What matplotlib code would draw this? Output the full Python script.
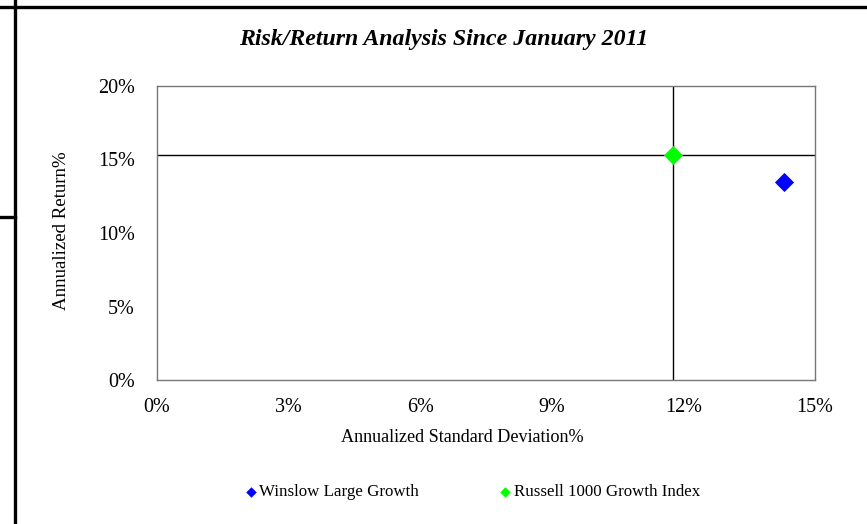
import matplotlib
matplotlib.use('Agg')
import matplotlib.pyplot as plt
from matplotlib.lines import Line2D
from matplotlib.ticker import FuncFormatter

# data (percent)
names = ['Winslow Large Growth', 'Russell 1000 Growth Index']
std_dev = [14.29, 11.76]
returns = [13.5, 15.3]
colors = ['#0000ff', '#00ff00']

x_ticks = [0, 3, 6, 9, 12, 15]
y_ticks = [0, 5, 10, 15, 20]

plt.rcParams['font.family'] = ['Liberation Serif', 'DejaVu Serif']

W, H = 867, 524
fig = plt.figure(figsize=(W / 100, H / 100), dpi=100)
ax = fig.add_axes([157 / W, 1 - 380 / H, (815 - 157) / W, (380 - 86) / H])

# crosshair through the index
ax.axvline(std_dev[1], color='black', lw=1.0, zorder=1)
ax.axhline(returns[1], color='black', lw=1.0, zorder=1)

for x, y, c, n in zip(std_dev, returns, colors, names):
    ax.scatter(x, y, marker='D', s=95, color=c, label=n, zorder=3, linewidths=0)

ax.set_xlim(0, 15)
ax.set_ylim(0, 20)
ax.set_xticks(x_ticks)
ax.set_yticks(y_ticks)
pct = FuncFormatter(lambda v, p: f'{v:.0f}%')
ax.xaxis.set_major_formatter(pct)
ax.yaxis.set_major_formatter(pct)
ax.tick_params(length=0, labelsize=14.5)
ax.tick_params(axis='y', pad=16)
ax.tick_params(axis='x', pad=13)
for s in ax.spines.values():
    s.set_color('#777777')
    s.set_linewidth(1.0)

fig.text(444 / W, 1 - 39 / H, 'Risk/Return Analysis Since January 2011',
         ha='center', va='center', fontsize=17.2, fontweight='bold', fontstyle='italic')
fig.text(462 / W, 1 - 438 / H, 'Annualized Standard Deviation%',
         ha='center', va='center', fontsize=13.1)
fig.text(61 / W, 1 - 231 / H, 'Annualized Return%', rotation=90,
         ha='center', va='center', fontsize=13.6)

fig.legend(loc='center', bbox_to_anchor=(471 / W, 1 - 492 / H), ncol=2,
           frameon=False, fontsize=12.2, handletextpad=0.0, columnspacing=4.6,
           markerscale=0.55, handlelength=1.0)

# page border lines from the source document
fig.add_artist(Line2D([15 / W, 15 / W], [0, 1], color='black', lw=2.4))
fig.add_artist(Line2D([0, 1], [1 - 6.5 / H, 1 - 6.5 / H], color='black', lw=2.4))
fig.add_artist(Line2D([0, 15 / W], [1 - 216.5 / H, 1 - 216.5 / H], color='black', lw=2.4))

plt.savefig('out.png', dpi=100)
